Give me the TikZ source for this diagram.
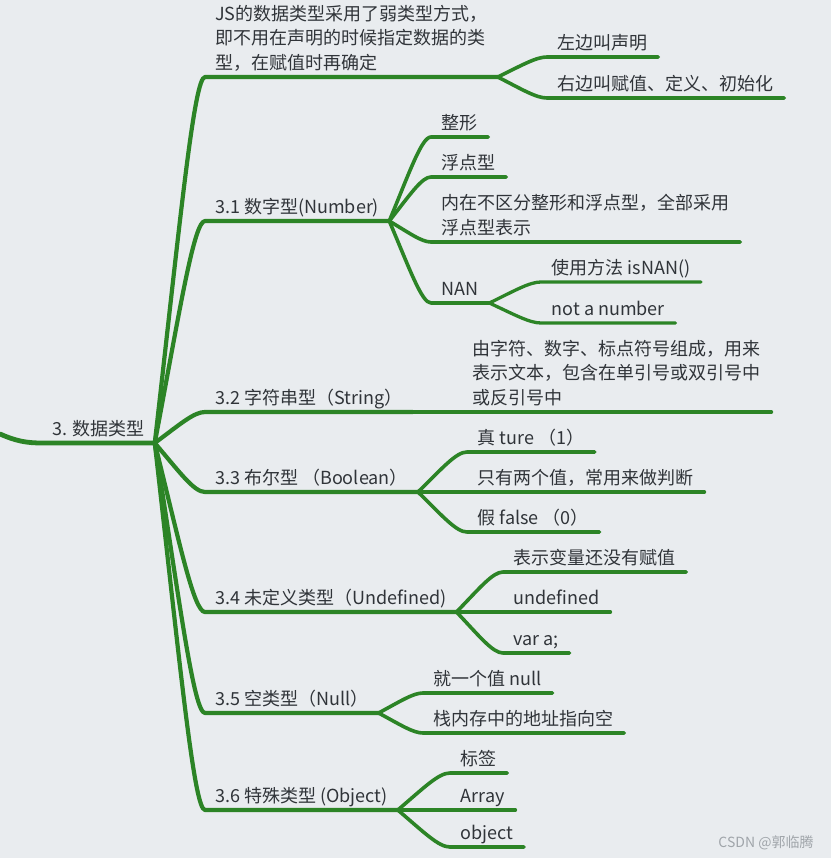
\documentclass[tikz,border=0pt]{standalone}
\usepackage{fontspec}
\setmainfont{Noto Sans CJK SC}
\usetikzlibrary{calc}
\definecolor{bgcol}{RGB}{233,236,239}
\definecolor{linecol}{RGB}{44,132,38}
\definecolor{txtcol}{RGB}{48,52,57}
\definecolor{wmcol}{RGB}{160,165,170}
\tikzset{
  topic/.style={anchor=south west, inner xsep=10pt, inner ysep=3.5pt, text depth=4pt,
    text=txtcol, align=left, font=\fontsize{18}{24.5}\selectfont},
  leaf/.style={topic, inner xsep=10.5pt},
  lzero/.style={draw=linecol, line width=4.8pt, line cap=round, line join=round},
  lone/.style={lzero, line width=4.2pt},
  ltwo/.style={lzero, line width=3.6pt},
  lthree/.style={lzero, line width=3.3pt},
  branch/.style={to path={let \p1=(\tikztostart), \p2=(\tikztotarget) in
    .. controls ({\x1+0.5*(\x2-(\x1))},{\y1+0.6*(\y2-(\y1))}) and ({\x2-0.22*(\x2-(\x1))},\y2) .. (\tikztotarget)}},
  wm/.style={text=wmcol, font=\fontsize{14}{16}\selectfont},
}
\begin{document}
\begin{tikzpicture}[x=1pt,y=-1pt]
\fill[bgcol] (0,0) rectangle (831,858);
\useasboundingbox (0,0) rectangle (831,858);
% root
\node[topic] (root) at (42,443) {3. 数据类型};
\coordinate (rootin) at (0,434);
% first level
\node[topic] (js) at (205,77) {JS的数据类型采用了弱类型方式，\\即不用在声明的时候指定数据的类\\型，在赋值时再确定};
\node[topic] (n31) at (205,221) {3.1 数字型(Number)};
\node[topic] (n32) at (205,412) {3.2 字符串型（String）};
\node[topic] (n33) at (205,492) {3.3 布尔型 （Boolean）};
\node[topic] (n34) at (205,612) {3.4 未定义类型（Undefined)};
\node[topic] (n35) at (205,713) {3.5 空类型（Null）};
\node[topic] (n36) at (205,810) {3.6 特殊类型 (Object)};
% second level
\node[leaf] (jsl) at (547,57) {左边叫声明};
\node[leaf] (jsr) at (547,98) {右边叫赋值、定义、初始化};
\node[leaf] (int) at (431,137) {整形};
\node[leaf] (flt) at (431,177) {浮点型};
\node[leaf] (inr) at (431,242) {内在不区分整形和浮点型，全部采用\\浮点型表示};
\node[leaf] (nan) at (431,303) {NAN};
\node[leaf] (isn) at (541,282) {使用方法 isNAN()};
\node[leaf] (nan2) at (541,323) {not a number};
\node[leaf] (strd) at (462,412) {由字符、数字、标点符号组成，用来\\表示文本，包含在单引号或双引号中\\或反引号中};
\node[leaf] (tru) at (467,452) {真 ture （1）};
\node[leaf] (two) at (467,492) {只有两个值，常用来做判断};
\node[leaf] (fls) at (467,532) {假 false （0）};
\node[leaf] (und1) at (503,572) {表示变量还没有赋值};
\node[leaf] (und2) at (503,612) {undefined};
\node[leaf] (und3) at (503,653) {var a;};
\node[leaf] (nul1) at (423,693) {就一个值 null};
\node[leaf] (nul2) at (423,733) {栈内存中的地址指向空};
\node[leaf] (obj1) at (450,773) {标签};
\node[leaf] (obj2) at (450,810) {Array};
\node[leaf] (obj3) at (450,847) {object};
% branches
\draw[lzero] (rootin) .. controls (16,441) and (26,443) .. (root.south west) -- (root.south east);
\foreach \dst in {js,n31,n32,n33,n34,n35,n36}
  \draw[lone] (root.south east) to[branch] (\dst.south west) -- (\dst.south east);
\foreach \src/\dst in {js/jsl,js/jsr,n31/int,n31/flt,n31/inr,n31/nan,n32/strd,
    n33/tru,n33/two,n33/fls,n34/und1,n34/und2,n34/und3,n35/nul1,n35/nul2,
    n36/obj1,n36/obj2,n36/obj3}
  \draw[ltwo] (\src.south east) to[branch] (\dst.south west) -- (\dst.south east);
\foreach \dst in {isn,nan2}
  \draw[lthree] (nan.south east) to[branch] (\dst.south west) -- (\dst.south east);
% watermark
\node[wm] (credit) at (766,843) {CSDN @郭临腾};
\end{tikzpicture}
\end{document}
